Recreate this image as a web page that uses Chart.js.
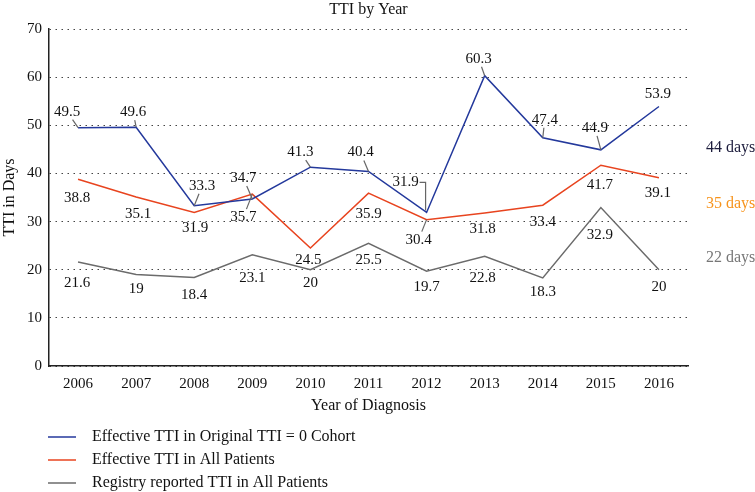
<!DOCTYPE html>
<html>
<head>
<meta charset="utf-8">
<script src="https://cdn.jsdelivr.net/npm/chart.js@4"></script>
<style>
  html, body { margin: 0; padding: 0; background: #fff; }
  canvas { display: block; }
</style>
</head>
<body>
<canvas id="ttiChart" width="755" height="492"></canvas>
<script>
// values
const years = ["2006", "2007", "2008", "2009", "2010", "2011", "2012", "2013", "2014", "2015", "2016"];
const originalCohort = [49.5, 49.6, 33.3, 34.7, 41.3, 40.4, 31.9, 60.3, 47.4, 44.9, 53.9];
const allPatients = [38.8, 35.1, 31.9, 35.7, 24.5, 35.9, 30.4, 31.8, 33.4, 41.7, 39.1];
const registryReported = [21.6, 19, 18.4, 23.1, 20, 25.5, 19.7, 22.8, 18.3, 32.9, 20];
const seriesNames = [
  "Effective TTI in Original TTI = 0 Cohort",
  "Effective TTI in All Patients",
  "Registry reported TTI in All Patients"
];
const averageNotes = ["44 days", "35 days", "22 days"];

const FONT = '"Liberation Serif", "DejaVu Serif", serif';
const colors = ["#24399c", "#e8441f", "#6b6b6b"];
const noteColors = ["#1c1c3c", "#f7941d", "#777777"];
const noteLevels = [45.3, 33.7, 22.4];

// label placement relative to each point: [dx, dy, leader]
const labelOffsets = [
  [[-11, -16, 1], [-3, -15, 1], [8, -20, 1], [-9, -21, 1], [-10, -15, 1], [-8, -19, 1],
   [-21, -30, 2], [-6, -17, 1], [2, -18, 1], [-6, -22, 1], [-1, -12, 0]],
  [[-1, 19, 0], [2, 17, 0], [1, 16, 0], [-9, 23, 1], [-2, 12, 0], [0, 21, 0],
   [-8, 20, 1], [-2, 16, 0], [0, 17, 0], [-1, 20, 0], [-1, 15, 0]],
  [[-1, 21, 0], [0, 15, 0], [0, 18, 0], [0, 23, 0], [0, 13, 0], [0, 17, 0],
   [0, 16, 0], [-2, 22, 0], [0, 14, 0], [-1, 27, 0], [0, 17, 0]]
];

const notesPlugin = {
  id: "notes",
  afterDatasetsDraw(chart) {
    const { ctx, chartArea, scales: { x, y } } = chart;
    ctx.save();
    ctx.font = "15px " + FONT;
    ctx.textAlign = "center";
    ctx.textBaseline = "middle";

    chart.data.datasets.forEach((ds, di) => {
      ds.data.forEach((v, i) => {
        const px = x.getPixelForValue(i);
        const py = y.getPixelForValue(v);
        const [dx, dy, lead] = labelOffsets[di][i];
        const lx = px + dx, ly = py + dy;
        ctx.strokeStyle = "#666";
        ctx.lineWidth = 1.2;
        if (lead === 1) {
          const t = 8 / Math.abs(dy);
          ctx.beginPath();
          ctx.moveTo(lx + (px - lx) * t, ly + (py - ly) * t);
          ctx.lineTo(px, py);
          ctx.stroke();
        } else if (lead === 2) {
          ctx.beginPath();
          ctx.moveTo(lx + 14, ly);
          ctx.lineTo(px - 1, ly);
          ctx.lineTo(px - 1, py - 2);
          ctx.stroke();
        }
        ctx.fillStyle = "#111";
        ctx.fillText(String(v), lx, ly);
      });
    });

    ctx.font = "16px " + FONT;
    // title
    ctx.fillStyle = "#111";
    ctx.fillText("TTI by Year", (chartArea.left + chartArea.right) / 2, 10);

    // average notes on the right
    ctx.textAlign = "left";
    averageNotes.forEach((txt, i) => {
      ctx.fillStyle = noteColors[i];
      ctx.fillText(txt, 706, y.getPixelForValue(noteLevels[i]));
    });

    // legend
    seriesNames.forEach((name, i) => {
      const ly = 437 + i * 23;
      ctx.strokeStyle = colors[i];
      ctx.lineWidth = 1.5;
      ctx.beginPath();
      ctx.moveTo(48, ly);
      ctx.lineTo(76, ly);
      ctx.stroke();
      ctx.fillStyle = "#111";
      ctx.fillText(name, 92, ly);
    });
    ctx.restore();
  }
};

new Chart(document.getElementById("ttiChart"), {
  type: "line",
  data: {
    labels: years,
    datasets: [originalCohort, allPatients, registryReported].map((d, i) => ({
      label: seriesNames[i],
      data: d,
      borderColor: colors[i],
      borderWidth: 1.5,
      pointRadius: 0,
      tension: 0,
      fill: false
    }))
  },
  options: {
    responsive: false,
    animation: false,
    layout: { padding: { top: 29, right: 67, bottom: 77, left: 0 } },
    plugins: {
      legend: { display: false },
      title: { display: false },
      tooltip: { enabled: false }
    },
    scales: {
      x: {
        offset: true,
        afterFit(scale) { scale.height = 49; },
        grid: { display: false, drawTicks: false },
        border: { display: true, color: "#222", width: 1.5 },
        ticks: { color: "#111", padding: 9, font: { family: FONT, size: 15 } },
        title: {
          display: true, text: "Year of Diagnosis", color: "#111",
          padding: 0, font: { family: FONT, size: 16 }
        }
      },
      y: {
        min: 0,
        max: 70,
        afterFit(scale) { scale.width = 49; },
        ticks: { stepSize: 10, color: "#111", padding: 7, font: { family: FONT, size: 15 } },
        grid: { color: "#444", lineWidth: 1, drawTicks: false },
        border: { display: true, color: "#222", width: 1.5, dash: [1.5, 4.5] },
        title: {
          display: true, text: "TTI in Days", color: "#111",
          padding: 0, font: { family: FONT, size: 16 }
        }
      }
    }
  },
  plugins: [notesPlugin]
});
</script>
</body>
</html>
